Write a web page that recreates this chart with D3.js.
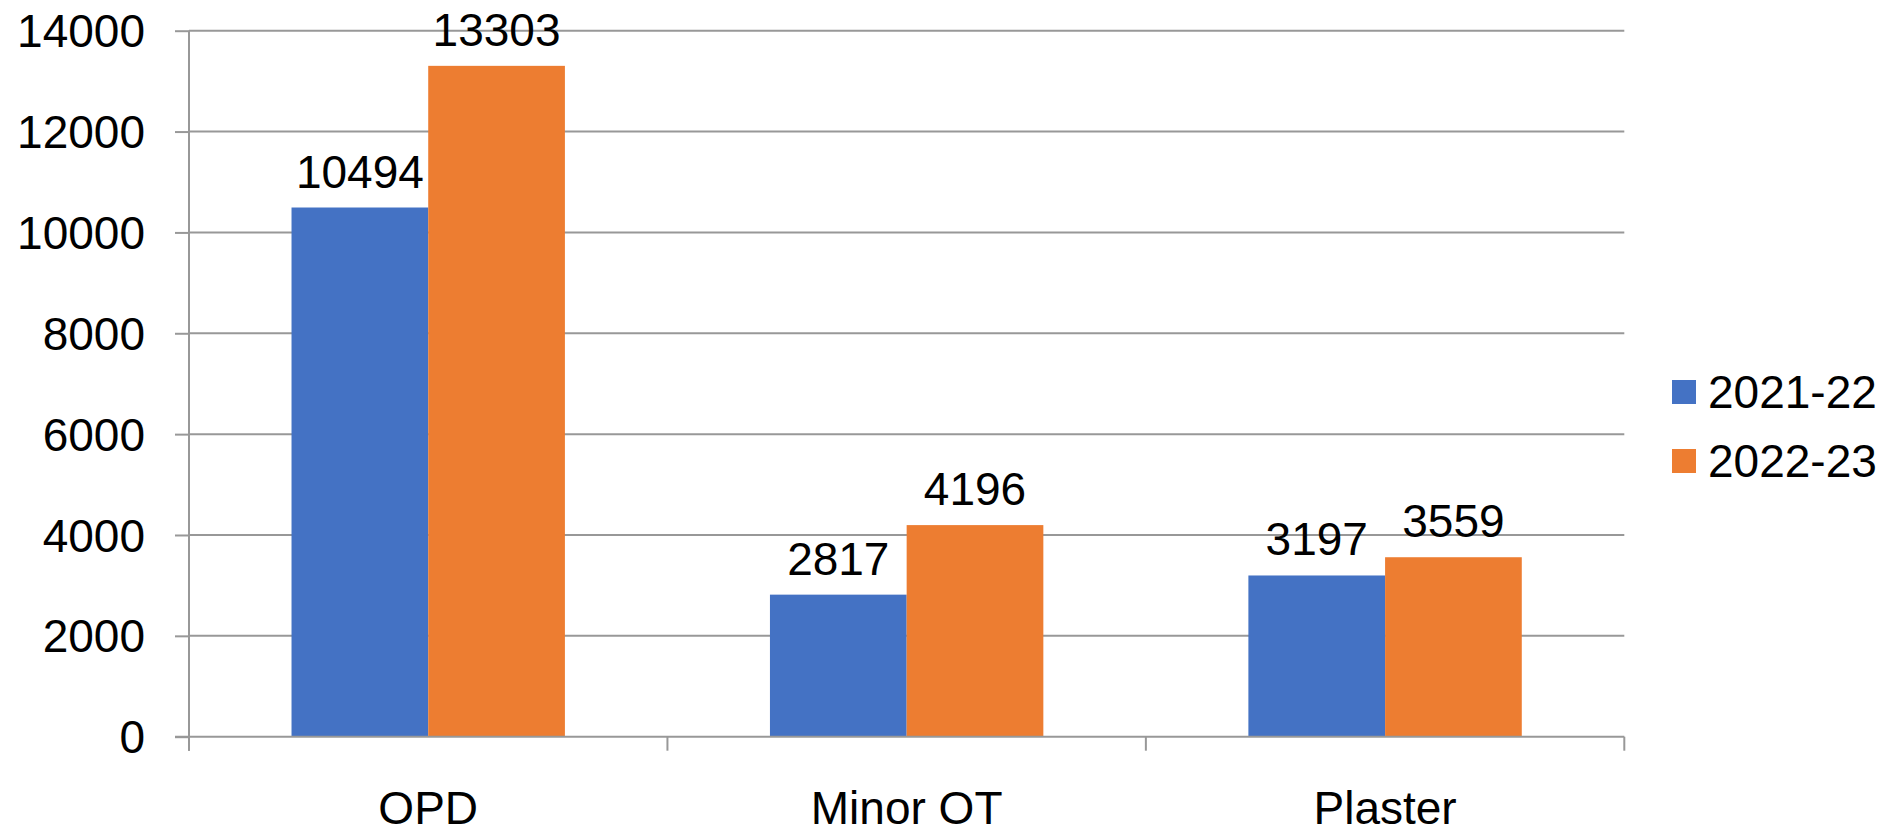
<!DOCTYPE html>
<html><head><meta charset="utf-8">
<script src="https://cdn.jsdelivr.net/npm/d3@7"></script>
<style>html,body{margin:0;padding:0;background:#fff;}svg{display:block;font-family:"Liberation Sans",Arial,sans-serif;}</style>
</head><body>
<svg id="c" width="1890" height="830"></svg>
<script>
const categories = ["OPD", "Minor OT", "Plaster"];
const seriesNames = ["2021-22", "2022-23"];
const values2021 = [10494, 2817, 3197];
const values2022 = [13303, 4196, 3559];
const yTicks = [0, 2000, 4000, 6000, 8000, 10000, 12000, 14000];
const colors = ["#4472C4", "#ED7D31"];

(function () {
const seriesValues = [values2021, values2022];
const svg = d3.select("#c");
const pLeft = 189, pRight = 1624.3, pTop = 30.7, pBottom = 736.7;
const FS = 46;
const gridColor = "#989898";

const x = d3.scaleBand().domain(categories).range([pLeft, pRight]).paddingInner(0).paddingOuter(0);
const y = d3.scaleLinear().domain([0, 14000]).range([pBottom, pTop]);
const barW = x.bandwidth() / 3.5;
const xs = d3.scaleBand().domain(seriesNames).range([0, barW * 2]);

// gridlines
svg.append("g").selectAll("line").data(yTicks.filter(d => d > 0)).join("line")
  .attr("x1", pLeft).attr("x2", pRight)
  .attr("y1", d => y(d)).attr("y2", d => y(d))
  .attr("stroke", gridColor).attr("stroke-width", 2);

// bars
const g = svg.append("g");
seriesNames.forEach((s, si) => {
  g.selectAll(".b" + si).data(categories).join("rect").attr("class", "b" + si)
    .attr("x", (c) => x(c) + (x.bandwidth() - barW * 2) / 2 + xs(s))
    .attr("y", (c, i) => y(seriesValues[si][i]))
    .attr("width", barW)
    .attr("height", (c, i) => pBottom - y(seriesValues[si][i]))
    .attr("fill", colors[si]);
  g.selectAll(".t" + si).data(categories).join("text").attr("class", "t" + si)
    .attr("x", (c) => x(c) + (x.bandwidth() - barW * 2) / 2 + xs(s) + barW / 2)
    .attr("y", (c, i) => y(seriesValues[si][i]) - 20)
    .attr("text-anchor", "middle")
    .attr("font-size", FS).attr("fill", "#000")
    .text((c, i) => seriesValues[si][i]);
});

// y axis
const yAxis = d3.axisLeft(y).tickValues(yTicks).tickSize(14).tickPadding(30).tickFormat(d3.format("d"));
const ya = svg.append("g").attr("transform", `translate(${pLeft},0)`).call(yAxis);
ya.select(".domain").remove();
ya.selectAll(".tick line").attr("stroke", gridColor).attr("stroke-width", 2);
ya.selectAll(".tick text").attr("font-size", FS).attr("fill", "#000").attr("font-family", "Liberation Sans, Arial, sans-serif").attr("dy", "0.35em");
svg.append("line").attr("x1", pLeft).attr("x2", pLeft).attr("y1", pTop).attr("y2", pBottom + 14)
  .attr("stroke", gridColor).attr("stroke-width", 2);

// x axis
const xAxis = d3.axisBottom(x).tickSize(0).tickPadding(0);
const xa = svg.append("g").attr("transform", `translate(0,${pBottom})`).call(xAxis);
xa.select(".domain").remove();
xa.selectAll(".tick text").attr("font-size", FS).attr("fill", "#000").attr("font-family", "Liberation Sans, Arial, sans-serif")
  .attr("dy", null).attr("y", 87);
svg.append("line").attr("x1", pLeft - 14).attr("x2", pRight).attr("y1", pBottom).attr("y2", pBottom)
  .attr("stroke", gridColor).attr("stroke-width", 2);
const boundaries = categories.map(c => x(c)).concat([pRight]);
svg.append("g").selectAll("line").data(boundaries).join("line")
  .attr("x1", d => d).attr("x2", d => d).attr("y1", pBottom).attr("y2", pBottom + 14)
  .attr("stroke", gridColor).attr("stroke-width", 2);

// legend
const lg = svg.append("g");
seriesNames.forEach((s, i) => {
  const cy = 392 + i * 69;
  lg.append("rect").attr("x", 1672).attr("y", cy - 12).attr("width", 24).attr("height", 24).attr("fill", colors[i]);
  lg.append("text").attr("x", 1708).attr("y", cy).attr("dy", "0.35em").attr("font-size", FS).attr("fill", "#000").text(s);
});
})();
</script>
</body></html>
